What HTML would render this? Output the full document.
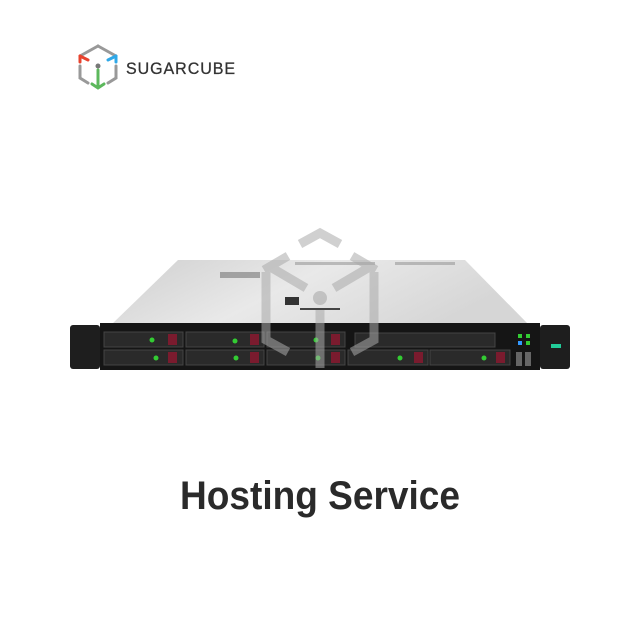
<!DOCTYPE html>
<html><head><meta charset="utf-8"><style>html,body{margin:0;padding:0;background:#fff}svg{display:block}</style></head>
<body>
<svg width="640" height="640" viewBox="0 0 640 640" xmlns="http://www.w3.org/2000/svg">
<defs>
<linearGradient id="top" x1="0" y1="0" x2="1" y2="0.3">
<stop offset="0" stop-color="#cfcfcf"/><stop offset="0.5" stop-color="#e9e9e9"/><stop offset="1" stop-color="#d6d6d6"/>
</linearGradient>
</defs>
<rect width="640" height="640" fill="#fff"/>
<!-- logo -->
<g stroke-width="3" fill="none" stroke-linecap="round">
<path d="M98 46 L80 56" stroke="#999"/>
<path d="M98 46 L116 56" stroke="#999"/>
<path d="M80 56 L80 62" stroke="#e8432e"/>
<path d="M80 56 L88 60" stroke="#e8432e"/>
<path d="M116 56 L116 62" stroke="#2fa8e8"/>
<path d="M116 56 L108 60" stroke="#2fa8e8"/>
<path d="M80 66 L80 78 L88 83" stroke="#999"/>
<path d="M116 66 L116 78 L108 83" stroke="#999"/>
<path d="M98 70 L98 86 M92 84 L98 88 L104 84" stroke="#5cb85c"/>
</g>
<circle cx="98" cy="66" r="2.5" fill="#777"/>
<text x="126" y="74" font-family="Liberation Sans, sans-serif" font-size="17" fill="#333" stroke="#333" stroke-width="0.3" textLength="110" lengthAdjust="spacingAndGlyphs" letter-spacing="1">SUGARCUBE</text>
<!-- server top -->
<polygon points="178,260 465,260 528,324 112,324" fill="url(#top)"/>
<rect x="220" y="272" width="40" height="6" fill="#777" opacity="0.6"/>
<rect x="295" y="262" width="80" height="3" fill="#999" opacity="0.6"/>
<rect x="395" y="262" width="60" height="3" fill="#999" opacity="0.6"/>
<rect x="285" y="297" width="14" height="8" fill="#333"/>
<rect x="300" y="308" width="40" height="2" fill="#444"/>
<!-- ears -->
<rect x="70" y="325" width="30" height="44" rx="3" fill="#1e1e1e"/>
<rect x="540" y="325" width="30" height="44" rx="3" fill="#1e1e1e"/>
<rect x="551" y="344" width="10" height="4" fill="#2c9"/>
<!-- front panel -->
<rect x="100" y="323" width="440" height="47" fill="#151515"/>
<g fill="#2a2a2a" stroke="#444" stroke-width="1">
<rect x="104" y="332" width="79" height="15"/><rect x="186" y="332" width="78" height="15"/><rect x="267" y="332" width="78" height="15"/>
<rect x="104" y="350" width="79" height="15"/><rect x="186" y="350" width="78" height="15"/><rect x="267" y="350" width="78" height="15"/>
<rect x="348" y="350" width="80" height="15"/><rect x="430" y="350" width="80" height="15"/>
<rect x="355" y="333" width="140" height="14"/>
</g>
<g fill="#7a1b2e">
<rect x="168" y="334" width="9" height="11"/><rect x="250" y="334" width="9" height="11"/><rect x="331" y="334" width="9" height="11"/>
<rect x="168" y="352" width="9" height="11"/><rect x="250" y="352" width="9" height="11"/><rect x="331" y="352" width="9" height="11"/>
<rect x="414" y="352" width="9" height="11"/><rect x="496" y="352" width="9" height="11"/>
</g>
<g fill="#3c3">
<circle cx="152" cy="340" r="2.5"/><circle cx="235" cy="341" r="2.5"/><circle cx="316" cy="340" r="2.5"/>
<circle cx="156" cy="358" r="2.5"/><circle cx="236" cy="358" r="2.5"/><circle cx="318" cy="358" r="2.5"/>
<circle cx="400" cy="358" r="2.5"/><circle cx="484" cy="358" r="2.5"/>
<rect x="518" y="334" width="4" height="4"/><rect x="526" y="334" width="4" height="4"/><rect x="526" y="341" width="4" height="4"/>
</g>
<rect x="518" y="341" width="4" height="4" fill="#39f"/>
<rect x="516" y="352" width="6" height="14" fill="#666"/><rect x="525" y="352" width="6" height="14" fill="#666"/>
<!-- watermark -->
<g stroke="#aaa" stroke-width="9" fill="none" opacity="0.55">
<path d="M300 244 L320 233 L340 244"/>
<path d="M264 270 L288 256"/><path d="M376 270 L352 256"/>
<path d="M266 272 L266 340 L288 352"/><path d="M374 272 L374 340 L352 352"/>
<path d="M272 268 L306 288"/><path d="M368 268 L334 288"/>
<path d="M320 310 L320 368"/>
</g>
<circle cx="320" cy="298" r="7" fill="#aaa" opacity="0.6"/>
<text x="180" y="509" font-family="Liberation Sans, sans-serif" font-weight="bold" font-size="40" fill="#2a2a2a" textLength="280" lengthAdjust="spacingAndGlyphs">Hosting Service</text>
</svg>
</body></html>
